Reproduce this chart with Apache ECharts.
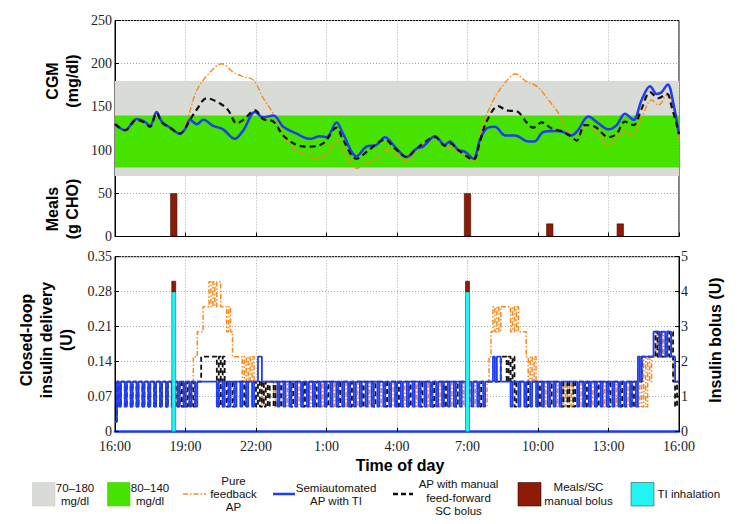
<!DOCTYPE html>
<html><head><meta charset="utf-8">
<script src="https://cdn.jsdelivr.net/npm/echarts@6/dist/echarts.min.js"></script>
<style>html,body{margin:0;padding:0;background:#fff}#c{width:748px;height:524px}</style>
</head><body><div id="c"></div>
<script>
// ---------- DATA ----------
const timeTickLabels = ['16:00','19:00','22:00','1:00','4:00','7:00','10:00','13:00','16:00'];
const cgmTickValues = [0, 50, 100, 150, 200, 250];
const insulinTickLabels = ['0','0.07','0.14','0.21','0.28','0.35'];
const bolusTickLabels = ['0','1','2','3','4','5'];

const cgmRangeWide = [70, 180];
const cgmRangeTight = [80, 140];

// [hours since 16:00, mg/dl]
const cgmPureFeedback = [[0,130],[0.43,123],[0.92,135],[1.25,132],[1.49,127],[1.77,143],[1.99,132],[2.34,126],[2.77,119],[3.0,129],[3.48,169],[4.04,190],[4.54,200],[5.04,190],[5.46,185],[5.89,181],[6.31,160],[6.74,142],[7.16,117],[7.73,100],[8.3,93],[8.58,90],[9.0,96],[9.43,112],[9.86,92],[10.28,79],[10.7,85],[11.13,90],[11.56,100],[11.91,96],[12.41,87],[12.84,100],[13.62,115],[14.04,104],[14.61,98],[15.25,88],[15.6,125],[16.03,154],[16.46,173],[17.05,188],[17.52,179],[17.95,174],[18.45,158],[18.94,140],[19.36,119],[19.7,121],[20.07,129],[20.5,121],[21.0,106],[21.35,113],[21.7,123],[22.0,117],[22.41,138],[22.84,158],[23.12,152],[23.52,165],[23.76,148],[24,113]];
const cgmSemiautomatedTI = [[0,130],[0.43,123],[0.92,136],[1.25,133],[1.49,128],[1.77,144],[1.99,133],[2.34,126],[2.77,119],[3.0,125],[3.19,135],[3.48,130],[3.76,135],[4.18,128],[4.6,124],[5.1,113],[5.46,123],[5.96,144],[6.3,138],[6.74,140],[7.16,127],[7.73,119],[8.3,113],[8.72,116],[9.0,115],[9.43,132],[9.7,119],[10.28,93],[10.7,104],[11.13,106],[11.49,115],[11.91,104],[12.41,92],[12.84,102],[13.1,104],[13.62,116],[14.04,106],[14.25,110],[14.61,100],[14.9,98],[15.25,90],[15.53,112],[15.81,125],[16.17,127],[16.6,117],[17.02,117],[17.59,110],[17.85,110],[18.23,121],[18.72,122],[19.07,121],[19.43,117],[19.7,123],[20.14,139],[20.57,131],[21.0,124],[21.35,129],[21.7,142],[22.06,135],[22.41,158],[22.77,174],[23.05,165],[23.26,167],[23.52,176],[23.76,154],[24,118]];
const cgmManualFeedForward = [[0,130],[0.43,123],[0.92,135],[1.25,132],[1.49,127],[1.77,143],[1.99,132],[2.34,126],[2.77,119],[3.0,126],[3.19,135],[3.48,147],[3.9,160],[4.47,154],[4.82,146],[5.18,131],[5.46,135],[5.96,146],[6.3,136],[6.74,133],[7.16,117],[7.73,106],[8.3,104],[8.87,108],[9.43,126],[9.7,112],[10.28,90],[10.8,100],[11.49,112],[11.91,102],[12.41,92],[12.84,102],[13.62,115],[14.04,105],[14.25,108],[14.61,100],[15.25,89],[15.53,110],[15.81,133],[16.31,151],[16.66,146],[17.09,145],[17.52,132],[17.8,126],[18.16,132],[18.58,125],[19.0,122],[19.43,115],[19.64,111],[20.0,129],[20.43,127],[21.0,115],[21.35,119],[21.7,133],[22.06,129],[22.41,148],[22.77,167],[23.12,160],[23.48,165],[23.69,150],[24,119]];

const mealHours = [2.5, 15, 18.5, 21.5];
const mealCarbs = [50, 50, 15, 15];

const bolusHours = [2.5, 15];
const tiInhaledUnits = [4, 4];
const scManualBolusUnits = [0.3, 0.3];

// closed-loop insulin delivery (U), one row per hour, 5-minute samples
const insulinStepMinutes = 5;
const insulinSemiautomatedTI = [
 [.02,.1,.05,.1,.1,.05,.1,.1,.05,.1,.1,.05],
 [.1,.1,.05,.1,.1,.05,.1,.1,.05,.1,.1,.05],
 [.1,.1,.05,.1,.1,.05,.1,.1,.05,.1,.1,.05],
 [.1,.1,.05,.1,.1,.05,.1,.1,.1,.1,.1,.1],
 [.1,.1,.1,.1,.05,.1,.1,.05,.1,.1,.05,.1],
 [.1,.05,.1,.1,.05,.1,.1,.05,.1,.1,.05,.1],
 [.1,.15,.15,.1,.1,.1,.1,.1,.1,.1,.1,.05],
 [.1,.1,.05,.1,.1,.05,.1,.1,.05,.1,.1,.05],
 [.1,.1,.05,.1,.1,.05,.1,.1,.05,.1,.1,.05],
 [.1,.1,.05,.1,.1,.05,.1,.1,.05,.1,.1,.05],
 [.1,.1,.05,.1,.1,.05,.1,.1,.05,.1,.1,.05],
 [.1,.1,.05,.1,.1,.05,.1,.1,.05,.1,.1,.05],
 [.1,.1,.05,.1,.1,.05,.1,.1,.05,.1,.1,.05],
 [.1,.1,.05,.1,.1,.05,.1,.1,.05,.1,.1,.05],
 [.1,.1,.05,.1,.1,.05,.1,.1,.05,.1,.1,.05],
 [.1,.1,.05,.1,.1,.05,.1,.1,.05,.1,.1,.1],
 [.1,.15,.1,.15,.15,.1,.1,.1,.1,.1,.05,.1],
 [.1,.1,.05,.1,.1,.05,.1,.1,.05,.1,.1,.05],
 [.1,.1,.05,.1,.1,.05,.1,.1,.05,.1,.1,.05],
 [.1,.1,.1,.1,.1,.1,.1,.1,.05,.1,.1,.05],
 [.1,.1,.05,.1,.1,.05,.1,.1,.05,.1,.1,.05],
 [.1,.1,.05,.1,.1,.05,.1,.1,.05,.1,.1,.05],
 [.1,.1,.05,.15,.1,.15,.15,.15,.15,.15,.15,.2],
 [.2,.2,.15,.2,.2,.15,.2,.2,.15,.15,.1,.1],
 [.1]
];
const insulinManualFeedForward = [
 [.02,.1,.05,.1,.1,.05,.1,.1,.05,.1,.1,.05],
 [.1,.1,.05,.1,.1,.05,.1,.1,.05,.1,.1,.05],
 [.1,.1,.05,.1,.1,.05,.05,.1,.05,.1,.05,.1],
 [.05,.1,.05,.1,.05,.1,.1,.1,.15,.15,.15,.15],
 [.15,.15,.15,.15,.05,.15,.05,.15,.1,.05,.1,.1],
 [.05,.1,.1,.1,.1,.1,.05,.1,.1,.1,.1,.1],
 [.05,.1,.05,.1,.05,.1,.05,.1,.1,.05,.1,.1],
 [.05,.1,.1,.1,.1,.1,.05,.1,.1,.1,.1,.1],
 [.05,.1,.1,.1,.1,.1,.05,.1,.1,.1,.1,.1],
 [.05,.1,.1,.1,.1,.1,.05,.1,.1,.1,.1,.1],
 [.05,.1,.1,.1,.1,.1,.05,.1,.1,.1,.1,.1],
 [.05,.1,.1,.1,.1,.1,.05,.1,.1,.1,.1,.1],
 [.05,.1,.1,.1,.1,.1,.05,.1,.1,.1,.1,.1],
 [.05,.1,.1,.1,.1,.1,.05,.1,.1,.1,.1,.1],
 [.05,.1,.1,.1,.1,.1,.05,.1,.1,.1,.1,.1],
 [.05,.1,.1,.1,.1,.1,.05,.1,.1,.1,.1,.1],
 [.1,.1,.1,.1,.1,.15,.15,.15,.1,.15,.1,.15],
 [.05,.1,.1,.1,.1,.1,.05,.1,.1,.1,.1,.1],
 [.05,.1,.1,.1,.1,.1,.05,.1,.1,.1,.1,.1],
 [.05,.1,.1,.05,.1,.1,.05,.1,.1,.1,.1,.1],
 [.05,.1,.1,.1,.1,.1,.05,.1,.1,.1,.1,.1],
 [.05,.1,.1,.1,.1,.1,.05,.1,.1,.1,.1,.1],
 [.05,.1,.1,.1,.1,.15,.15,.15,.15,.15,.15,.15],
 [.2,.15,.2,.15,.15,.15,.2,.15,.2,.1,.05,.1],
 [.1]
];
const insulinPureFeedback = [
 [.02,.1,.05,.1,.1,.05,.1,.1,.05,.1,.1,.05],
 [.1,.1,.05,.1,.1,.05,.1,.1,.05,.1,.1,.05],
 [.1,.1,.05,.1,.1,.05,.1,.1,.05,.1,.1,.05],
 [.1,.1,.05,.1,.15,.15,.2,.2,.2,.25,.25,.25],
 [.3,.25,.3,.25,.3,.3,.25,.25,.25,.2,.25,.2],
 [.15,.15,.15,.15,.15,.1,.15,.1,.15,.1,.15,.1],
 [.1,.1,.1,.05,.1,.1,.1,.1,.1,.05,.1,.1],
 [.1,.1,.1,.05,.1,.1,.1,.1,.1,.05,.1,.1],
 [.1,.1,.1,.05,.1,.1,.1,.1,.1,.05,.1,.1],
 [.1,.1,.1,.05,.1,.1,.1,.1,.1,.05,.1,.1],
 [.1,.1,.1,.05,.1,.1,.1,.1,.1,.05,.1,.1],
 [.1,.1,.1,.05,.1,.1,.1,.1,.1,.05,.1,.1],
 [.1,.1,.1,.05,.1,.1,.1,.1,.1,.05,.1,.1],
 [.1,.1,.1,.05,.1,.1,.1,.1,.1,.05,.1,.1],
 [.1,.1,.1,.05,.1,.1,.1,.1,.1,.05,.1,.1],
 [.1,.1,.1,.05,.1,.1,.1,.1,.1,.05,.1,.15],
 [.2,.25,.2,.25,.2,.25,.25,.25,.25,.25,.2,.25],
 [.2,.25,.2,.2,.2,.2,.15,.1,.15,.1,.15,.1],
 [.1,.1,.1,.05,.1,.1,.1,.1,.1,.05,.1,.1],
 [.1,.05,.1,.05,.1,.05,.1,.1,.1,.05,.1,.1],
 [.1,.1,.1,.05,.1,.1,.1,.1,.1,.05,.1,.1],
 [.1,.1,.1,.05,.1,.1,.1,.1,.1,.05,.1,.1],
 [.1,.1,.1,.05,.15,.05,.15,.05,.15,.1,.15,.15],
 [.2,.15,.2,.15,.2,.15,.15,.15,.15,.1,.1,.1],
 [.1]
];

// ---------- BUILD ----------
function stepSeriesData(rows) {
  const flat = [].concat(...rows);
  return flat.map((v, i) => [i * insulinStepMinutes / 60, v]);
}
function pairs(xs, ys) { return xs.map((x, i) => [x, ys[i]]); }

const C = {
  grey: '#d9dbd7', green: '#48e200', orange: '#f7891c', blue: '#1f3cf5',
  black: '#111111', red: '#8e1a08', cyan: '#22f4f4'
};
const SERIF = 'Liberation Serif';
const SANS = 'Liberation Sans';

const tickLabelStyle = { fontFamily: SERIF, fontSize: 14, color: '#222' };
const dotted = { show: true, lineStyle: { type: [1, 2], color: '#a8a8a8', width: 1 } };

const chart = echarts.init(document.getElementById('c'), null, { renderer: 'svg', width: 748, height: 524 });

const xCommon = {
  type: 'value', min: 0, max: 24, interval: 3,
  axisLine: { show: true, lineStyle: { color: '#000', width: 1 } },
  axisTick: { show: true, inside: true, length: 4, lineStyle: { color: '#000' } },
  splitLine: dotted
};

const legendY = 494;
const legendText = (x, y, text, align) => ({
  type: 'text', x: x, y: y,
  style: { text: text, fontFamily: SANS, fontSize: 11.5, fill: '#111', lineHeight: 13.3,
    align: align || 'center', textAlign: align || 'center', verticalAlign: 'middle', textVerticalAlign: 'middle' }
});
const titleText = (x, y, text, rot) => ({
  type: 'text', x: x, y: y, rotation: rot,
  style: { text: text, fontFamily: SANS, fontSize: 16, fontWeight: 'bold', fill: '#000', lineHeight: 20,
    align: 'center', textAlign: 'center', verticalAlign: 'middle', textVerticalAlign: 'middle' }
});

function renderBolus(params, api) {
  const x = api.value(0), ti = api.value(1), sc = api.value(2);
  const p0 = api.coord([x, 0]);
  const p1 = api.coord([x, ti]);
  const p2 = api.coord([x, ti + sc]);
  const w = 4;
  return { type: 'group', children: [
    { type: 'rect', shape: { x: p0[0] - w / 2, y: p1[1], width: w, height: p0[1] - p1[1] },
      style: { fill: C.cyan, stroke: '#2a5a5a', lineWidth: 0.6 } },
    { type: 'rect', shape: { x: p0[0] - w / 2, y: p2[1], width: w, height: p1[1] - p2[1] },
      style: { fill: C.red, stroke: '#3a0a02', lineWidth: 0.6 } }
  ] };
}

const option = {
  animation: false,
  backgroundColor: '#fff',
  grid: [
    { left: 115, right: 69, top: 20.5, height: 216, show: true, borderColor: '#000', borderWidth: 1, backgroundColor: 'transparent' },
    { left: 115, right: 69, top: 256.7, height: 175, show: true, borderColor: '#000', borderWidth: 1, backgroundColor: 'transparent' }
  ],
  xAxis: [
    Object.assign({}, xCommon, { gridIndex: 0, axisLabel: { show: false } }),
    Object.assign({}, xCommon, {
      gridIndex: 1,
      axisLine: { show: true, lineStyle: { color: C.blue, width: 2.5 } },
      axisLabel: Object.assign({}, tickLabelStyle, { margin: 7.5, formatter: v => timeTickLabels[Math.round(v / 3)] })
    })
  ],
  yAxis: [
    { type: 'value', gridIndex: 0, min: 0, max: 250, interval: 50,
      axisLine: { show: true, lineStyle: { color: '#000' } },
      axisTick: { show: true, inside: true, length: 4, lineStyle: { color: '#000' } },
      axisLabel: Object.assign({ margin: 3, formatter: v => String(cgmTickValues[Math.round(v / 50)]) }, tickLabelStyle),
      splitLine: dotted },
    { type: 'value', gridIndex: 1, min: 0, max: 0.35, interval: 0.07,
      axisLine: { show: true, lineStyle: { color: '#000' } },
      axisTick: { show: true, inside: true, length: 4, lineStyle: { color: '#000' } },
      axisLabel: Object.assign({ margin: 3, formatter: v => insulinTickLabels[Math.round(v / 0.07)] }, tickLabelStyle),
      splitLine: dotted },
    { type: 'value', gridIndex: 1, position: 'right', min: 0, max: 5, interval: 1,
      axisLine: { show: true, lineStyle: { color: '#000' } },
      axisTick: { show: true, inside: true, length: 4, lineStyle: { color: '#000' } },
      axisLabel: Object.assign({ margin: 2, formatter: v => bolusTickLabels[Math.round(v)] }, tickLabelStyle),
      splitLine: { show: false } }
  ],
  series: [
    { name: 'Pure feedback AP', type: 'line', xAxisIndex: 0, yAxisIndex: 0, data: cgmPureFeedback,
      smooth: 0.35, symbol: 'none', z: 3,
      lineStyle: { color: C.orange, width: 1.4, type: [6, 2, 1.5, 2] },
      markArea: { silent: true, data: [
        [{ yAxis: cgmRangeWide[0], itemStyle: { color: C.grey } }, { yAxis: cgmRangeWide[1] }],
        [{ yAxis: cgmRangeTight[0], itemStyle: { color: C.green } }, { yAxis: cgmRangeTight[1] }]
      ] } },
    { name: 'Semiautomated AP with TI', type: 'line', xAxisIndex: 0, yAxisIndex: 0, data: cgmSemiautomatedTI,
      smooth: 0.35, symbol: 'none', z: 4, lineStyle: { color: C.blue, width: 2.5 } },
    { name: 'AP with manual feed-forward SC bolus', type: 'line', xAxisIndex: 0, yAxisIndex: 0, data: cgmManualFeedForward,
      smooth: 0.35, symbol: 'none', z: 5, lineStyle: { color: C.black, width: 2.2, type: [6, 4] } },
    { name: 'Meals', type: 'bar', xAxisIndex: 0, yAxisIndex: 0, data: pairs(mealHours, mealCarbs),
      barWidth: 7, z: 6, itemStyle: { color: C.red, borderColor: '#3a0a02', borderWidth: 0.6 } },

    { type: 'line', xAxisIndex: 1, yAxisIndex: 1, data: stepSeriesData(insulinPureFeedback), step: 'end',
      symbol: 'none', z: 3, lineStyle: { color: C.orange, width: 1.5, type: [5, 2, 1.5, 2] } },
    { type: 'line', xAxisIndex: 1, yAxisIndex: 1, data: stepSeriesData(insulinManualFeedForward), step: 'end',
      symbol: 'none', z: 4, lineStyle: { color: C.black, width: 1.8, type: [5, 3] } },
    { type: 'line', xAxisIndex: 1, yAxisIndex: 1, data: stepSeriesData(insulinSemiautomatedTI), step: 'end',
      symbol: 'none', z: 5, lineStyle: { color: C.blue, width: 1.8 } },
    { name: 'TI inhalation + SC bolus', type: 'custom', xAxisIndex: 1, yAxisIndex: 2, z: 7,
      data: bolusHours.map((h, i) => [h, tiInhaledUnits[i], scManualBolusUnits[i]]),
      renderItem: renderBolus }
  ],
  graphic: [
    titleText(62.75, 81, 'CGM\n(mg/dl)', Math.PI / 2),
    titleText(62.75, 209, 'Meals\n(g CHO)', Math.PI / 2),
    titleText(46.5, 340, 'Closed-loop\ninsulin delivery\n(U)', Math.PI / 2),
    titleText(715, 340, 'Insulin bolus (U)', Math.PI / 2),
    titleText(400, 465, 'Time of day', 0),

    { type: 'rect', shape: { x: 32.5, y: 482.5, width: 22.5, height: 23.5 }, style: { fill: C.grey, stroke: '#c8cac6', lineWidth: 0.5 } },
    legendText(75, 494.5, '70–180\nmg/dl'),
    { type: 'rect', shape: { x: 107.5, y: 482.5, width: 22.5, height: 23.5 }, style: { fill: C.green, stroke: '#3cc400', lineWidth: 0.5 } },
    legendText(150, 494.5, '80–140\nmg/dl'),
    { type: 'line', shape: { x1: 183, y1: legendY, x2: 206, y2: legendY }, style: { stroke: C.orange, lineWidth: 1.6, lineDash: [5, 2, 1.5, 2] } },
    legendText(233.5, 494, 'Pure\nfeedback\nAP'),
    { type: 'line', shape: { x1: 273, y1: legendY, x2: 295, y2: legendY }, style: { stroke: C.blue, lineWidth: 2.5 } },
    legendText(336, 494.5, 'Semiautomated\nAP with TI'),
    { type: 'line', shape: { x1: 393, y1: legendY, x2: 413, y2: legendY }, style: { stroke: C.black, lineWidth: 2.5, lineDash: [5, 3] } },
    legendText(458.5, 497.5, 'AP with manual\nfeed-forward\nSC bolus'),
    { type: 'rect', shape: { x: 518, y: 482.5, width: 23, height: 23.5 }, style: { fill: C.red, stroke: '#3a0a02', lineWidth: 0.6 } },
    legendText(578.5, 494, 'Meals/SC\nmanual bolus'),
    { type: 'rect', shape: { x: 631, y: 482.5, width: 23, height: 23.5 }, style: { fill: C.cyan, stroke: '#2a5a5a', lineWidth: 0.6 } },
    legendText(657.5, 494, 'TI inhalation', 'left')
  ]
};
chart.setOption(option);
</script></body></html>
